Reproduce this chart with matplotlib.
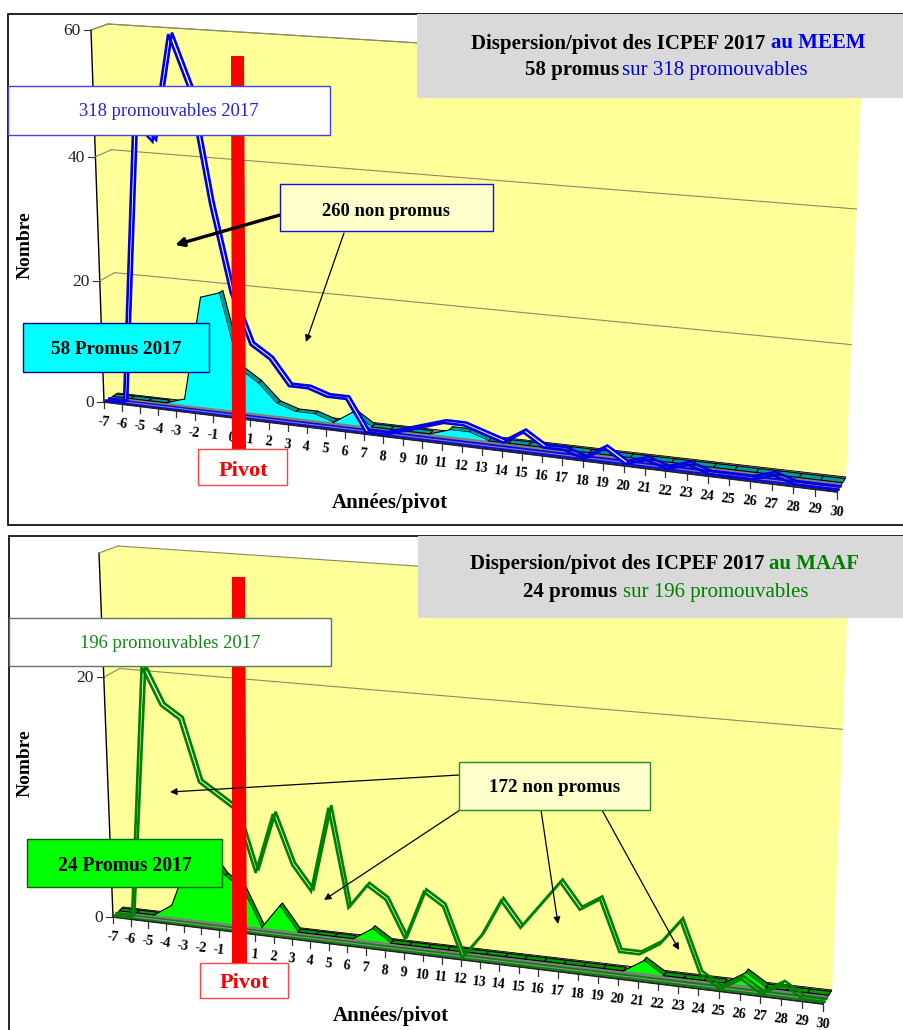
# -*- coding: utf-8 -*-
"""
Dispersion/pivot des ICPEF 2017, MEEM et MAAF (faux 3D)
"""
import numpy as np
import matplotlib
matplotlib.use("Agg")
import matplotlib.pyplot as plt
from matplotlib.patches import Rectangle, Polygon

plt.rcParams['font.family'] = ['Liberation Serif', 'DejaVu Serif']

# Donnees
annees = list(range(-7, 31))
promouvables_meem = [0, 0, 46, 43, 60, 52, 34, 20, 12, 10, 6, 6, 5, 5, 0, 0, 1, 2, 3, 3,
                     2, 1, 3, 1, 1, 0, 2, 0, 1, 0, 1, 0, 0, 0, 1, 0, 0, 0]
promus_meem = [0, 0, 0, 0, 1, 18, 19, 7, 5, 2, 1, 1, 0, 2, 0, 0, 0, 0, 1, 1,
               0, 0, 0, 0, 0, 0, 0, 0, 0, 0, 0, 0, 0, 0, 0, 0, 0, 0]
promouvables_maaf = [0, 0, 21, 18, 17, 12, 11, 10, 5, 10, 6, 4, 11, 3, 5, 4, 1, 5, 4, 0,
                     2, 5, 3, 5, 7, 5, 6, 2, 2, 3, 5, 1, 0, 1, 0, 1, 0, 0]
promus_maaf = [0, 0, 0, 1, 5, 6, 4, 3, 0, 2, 0, 0, 0, 0, 1, 0, 0, 0, 0, 0,
               0, 0, 0, 0, 0, 0, 0, 0, 1, 0, 0, 0, 0, 1, 0, 0, 0, 0]
yticks_meem = [0, 20, 40, 60]
yticks_maaf = [0, 20]


def homographie(src, dst):
    A, b = [], []
    for (x, y), (u, v) in zip(src, dst):
        A.append([x, y, 1, 0, 0, 0, -u*x, -u*y])
        A.append([0, 0, 0, x, y, 1, -v*x, -v*y])
        b += [u, v]
    h = np.linalg.solve(np.array(A, float), np.array(b, float))
    return np.append(h, 1).reshape(3, 3)


class Vue:
    """perspective : plan avant (z=0) et fond (z=1), en pixels"""
    def __init__(self, vmax, avant, fond):
        src = [(-7, 0), (30, 0), (-7, vmax), (30, vmax)]
        self.vmax = vmax
        self.h0 = homographie(src, avant)
        self.h1 = homographie(src, fond)

    def _p(self, h, x, v):
        w = h[2, 0]*x + h[2, 1]*v + h[2, 2]
        return (h[0, 0]*x + h[0, 1]*v + h[0, 2])/w, (h[1, 0]*x + h[1, 1]*v + h[1, 2])/w

    def __call__(self, x, v, z=0.0):
        x, v = np.asarray(x, float), np.asarray(v, float)
        x0, y0 = self._p(self.h0, x, v)
        x1, y1 = self._p(self.h1, x, v)
        return x0 + z*(x1-x0), y0 + z*(y1-y0)


def poly(ax, px, py, **kw):
    ax.add_patch(Polygon(np.column_stack([px, py]), closed=True, **kw))


def panneau(ax, vue, ticks, total, promus, c_ligne, c_face, c_bande, c_trait):
    x = np.array(annees, float)
    zero = np.zeros(len(x))
    vmax = vue.vmax
    # fond et cote
    jaune = '#FFFF99'
    bx, by = vue([-7, 30, 30, -7], [0, 0, vmax, vmax], 1)
    poly(ax, bx, by, fc=jaune, ec='none', zorder=1)
    ax_, ay_ = vue([-7, -7], [0, vmax], 0)
    bx_, by_ = vue([-7, -7], [vmax, 0], 1)
    poly(ax, np.r_[ax_, bx_], np.r_[ay_, by_], fc=jaune, ec='none', zorder=1)
    ax.plot(ax_, ay_, color='black', lw=1, zorder=2)
    # ligne haute du fond
    tx, ty = vue([-7, 30], [vmax, vmax], 1)
    ax.plot(tx, ty, color='#888860', lw=0.8, zorder=2)
    ax.plot([ax_[1], tx[0]], [ay_[1], ty[0]], color='#888860', lw=0.8, zorder=2)
    # grille
    for t in ticks:
        gx, gy = vue([-7, 30], [t, t], 1)
        fx, fy = vue(-7, t, 0)
        if t > 0:
            ax.plot(gx, gy, color='#8a8a68', lw=0.8, zorder=2)
            ax.plot([fx, gx[0]], [fy, gy[0]], color='#8a8a68', lw=0.8, zorder=2)
        ax.plot([fx-7, fx], [fy, fy], color='#333333', lw=0.8, zorder=2)
        ax.text(fx-10, fy+1, str(t), ha='right', va='center', fontsize=12.5, color='#222222', zorder=2)
    # plancher
    fx0, fy0 = vue([-7, 30], [0, 0], 0)
    fx1, fy1 = vue([30, -7], [0, 0], 1)
    poly(ax, np.r_[fx0, fx1], np.r_[fy0, fy1], fc='#808080', ec='black', lw=0.6, zorder=3)
    # graduations
    for k in annees:
        px, py = vue(k, 0, 0)
        ax.plot([px, px], [py, py+6.5], color='#333333', lw=0.9, zorder=3)
        ax.annotate(str(k), (px, py), xytext=(-0.5, -14.5), textcoords='offset points',
                    ha='center', va='center', fontsize=10.2, fontweight='bold', rotation=-6,
                    zorder=3)
    ax.plot(fx0, fy0, color='#222222', lw=1.2, zorder=4)

    # aire des promus : bande du dessus puis face avant
    # la bande n'est visible que quand la courbe descend ou reste plate
    z1, z2 = 0.62, 0.9
    x1, y1 = vue(x, promus, z1)
    x2, y2 = vue(x, promus, z2)
    for i in range(len(x)-1):
        if promus[i+1] <= promus[i]:
            poly(ax, [x1[i], x1[i+1], x2[i+1], x2[i]], [y1[i], y1[i+1], y2[i+1], y2[i]],
                 fc=c_bande, ec='black', lw=0.8, zorder=5)
    bx, by = vue(x, zero, z1)
    poly(ax, np.r_[x1, bx[::-1]], np.r_[y1, by[::-1]], fc=c_face, ec='none', zorder=6)
    for i in range(len(x)-1):
        if promus[i+1] > promus[i]:
            ax.plot(x1[i:i+2], y1[i:i+2], color='black', lw=0.8, zorder=6)

    # ruban des promouvables : deux lignes, interieur pale
    bx, by = vue([-7, 30], [0, 0], 0.05)
    bx2, by2 = vue([30, -7], [0, 0], 0.42)
    poly(ax, np.r_[bx, bx2], np.r_[by, by2], fc=c_ligne, ec='none', alpha=0.9, zorder=7)
    sx, sy = vue([-7, 30], [0, 0], 0.24)
    ax.plot(sx, sy, color=c_trait, lw=0.8, zorder=7)
    lx1, ly1 = vue(x, total, 0.15)
    lx2, ly2 = vue(x, total, 0.38)
    for i in range(len(x)-1):
        if max(total[i], total[i+1]) >= 2:
            poly(ax, [lx1[i], lx1[i+1], lx2[i+1], lx2[i]], [ly1[i], ly1[i+1], ly2[i+1], ly2[i]],
                 fc='#FFFFE0', ec='none', zorder=7)
    ax.plot(lx1, ly1, color=c_ligne, lw=1.9, solid_joinstyle='miter', zorder=8)
    ax.plot(lx2, ly2, color=c_ligne, lw=1.9, solid_joinstyle='miter', zorder=8)


def boite(ax, x0, y0, x1, y1, fc, ec, lw=1.0, z=12):
    ax.add_patch(Rectangle((x0, y0), x1-x0, y1-y0, fc=fc, ec=ec, lw=lw, zorder=z))


def fleche(ax, x0, y0, x1, y1, lw=0.9, t=4):
    ax.annotate('', xy=(x1, y1), xytext=(x0, y0), zorder=11,
                arrowprops=dict(arrowstyle='-|>,head_width=%g,head_length=%g' % (t/20, t/10),
                                color='black', lw=lw, shrinkA=0, shrinkB=0))


fig = plt.figure(figsize=[9.04, 10.30], dpi=100)
ax = fig.add_axes([0, 0, 1, 1])
ax.set_xlim(0, 904)
ax.set_ylim(1030, 0)
ax.axis('off')

# cadres
ax.add_patch(Rectangle((8.5, 13.5), 900, 511.5, fc='white', ec='black', lw=1.2, zorder=0))
ax.add_patch(Rectangle((9.5, 535.5), 900, 520, fc='white', ec='black', lw=1.2, zorder=0))

vue_meem = Vue(60, [(104, 402), (837, 492), (91, 30), (850, 82)],
               [(118, 393), (846, 477), (108, 24), (862, 70)])
vue_maaf = Vue(30, [(113, 917), (823, 1004), (99, 553), (836, 606)],
               [(123, 907), (832, 990), (118, 546), (848, 595)])

panneau(ax, vue_meem, yticks_meem, promouvables_meem, promus_meem, '#0000E6', '#00FFFF', '#009999', '#8080B0')
panneau(ax, vue_maaf, yticks_maaf, promouvables_maaf, promus_maaf, '#008000', '#00FF00', '#009900', '#909090')

# barres pivot
ax.add_patch(Polygon([(231, 56), (244, 56), (246, 449), (232, 449)], fc='#FF0000', ec='none', zorder=10))
ax.add_patch(Polygon([(232, 577), (245, 577), (247, 963), (232, 963)], fc='#FF0000', ec='none', zorder=10))

# titres
ax.add_patch(Rectangle((417, 14), 487, 84, fc='#D9D9D9', ec='none', zorder=9))
ax.add_patch(Rectangle((418, 535.5), 486, 82.5, fc='#D9D9D9', ec='none', zorder=9))
TF = 15
ax.text(471, 43.5, 'Dispersion/pivot des ICPEF 2017', fontsize=TF, fontweight='bold', va='center', zorder=13)
ax.text(771, 43.5, 'au MEEM', fontsize=TF, fontweight='bold', color='#0000E6', va='center', zorder=13)
ax.text(525, 70.5, '58 promus', fontsize=TF, fontweight='bold', va='center', zorder=13)
ax.text(622, 70.5, 'sur 318 promouvables', fontsize=TF, color='#0000E6', va='center', zorder=13)
ax.text(470, 564, 'Dispersion/pivot des ICPEF 2017', fontsize=TF, fontweight='bold', va='center', zorder=13)
ax.text(769, 564, 'au MAAF', fontsize=TF, fontweight='bold', color='#008000', va='center', zorder=13)
ax.text(523, 592, '24 promus', fontsize=TF, fontweight='bold', va='center', zorder=13)
ax.text(623, 592, 'sur 196 promouvables', fontsize=TF, color='#008000', va='center', zorder=13)

# boites
boite(ax, 8, 86, 330, 135, 'white', '#4444DD')
ax.text(169, 112, '318 promouvables 2017', fontsize=13.3, color='#2222DD', ha='center', va='center', zorder=13)
boite(ax, 280, 184, 493, 231, '#FFFFCC', '#1111DD')
ax.text(386, 211, '260 non promus', fontsize=13.4, fontweight='bold', ha='center', va='center', zorder=13)
boite(ax, 23, 323, 209, 372, '#00FFFF', '#000099')
ax.text(116, 350, '58 Promus 2017', fontsize=13.8, fontweight='bold', ha='center', va='center', zorder=13)
boite(ax, 198, 449, 287, 485, 'white', '#FF4444')
ax.text(243, 471, 'Pivot', fontsize=16, fontweight='bold', color='#FF0000', ha='center', va='center', zorder=13)

boite(ax, 9, 618, 331, 666, 'white', '#5A7A5A')
ax.text(170, 643, '196 promouvables 2017', fontsize=13.4, color='#118811', ha='center', va='center', zorder=13)
boite(ax, 459, 762, 650, 810, '#FFFFCC', '#228B22')
ax.text(555, 788, '172 non promus', fontsize=13.7, fontweight='bold', ha='center', va='center', zorder=13)
boite(ax, 27, 839, 222, 887, '#00FF00', '#006600')
ax.text(125, 866, '24 Promus 2017', fontsize=14.1, fontweight='bold', ha='center', va='center', zorder=13)
boite(ax, 200, 963, 288, 998, 'white', '#FF4444')
ax.text(244, 983, 'Pivot', fontsize=16, fontweight='bold', color='#FF0000', ha='center', va='center', zorder=13)

# titres d'axes
ax.text(25, 245, 'Nombre', fontsize=14, fontweight='bold', rotation=90, ha='center', va='center', zorder=3)
ax.text(390, 503, 'Années/pivot', fontsize=15, fontweight='bold', ha='center', va='center', zorder=3)
ax.text(25, 763, 'Nombre', fontsize=14, fontweight='bold', rotation=90, ha='center', va='center', zorder=3)
ax.text(391, 1016, 'Années/pivot', fontsize=15, fontweight='bold', ha='center', va='center', zorder=3)

# fleches
fleche(ax, 280, 215, 175, 245, lw=2.4, t=5)
fleche(ax, 344, 233, 306, 342)
fleche(ax, 459, 775, 170, 792)
fleche(ax, 460, 810, 324, 900)
fleche(ax, 541, 810, 558, 924)
fleche(ax, 602, 810, 679, 950)

plt.savefig(fname='out.png', dpi=100)
